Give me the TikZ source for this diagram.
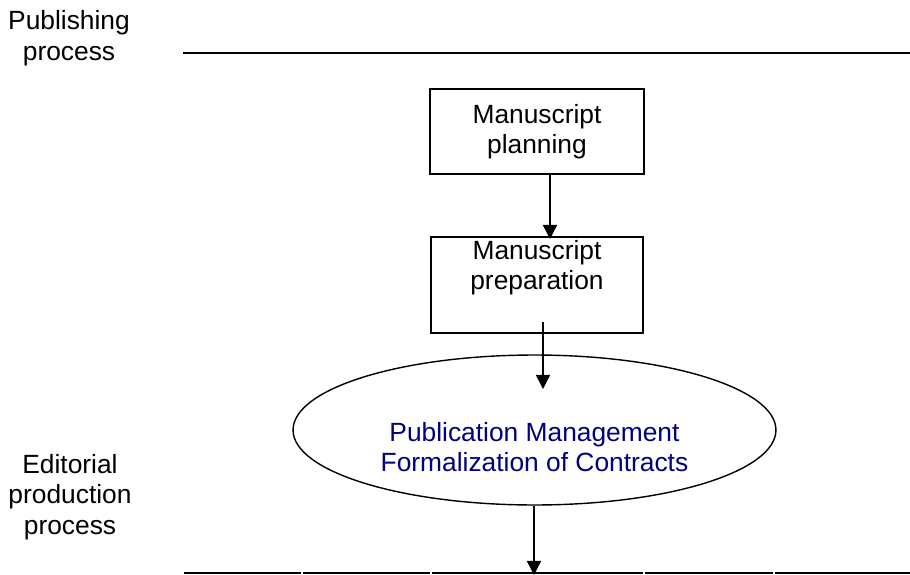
\documentclass[tikz,border=0pt]{standalone}
\usepackage{fontspec}
\setmainfont{Liberation Sans}
\usetikzlibrary{arrows.meta,shapes.geometric}

\definecolor{pmblue}{RGB}{0,0,128}

\tikzset{
  stage/.style={draw, line width=0.8pt, align=center, inner sep=0pt},
  side/.style={align=center, inner sep=0pt},
  flow/.style={line width=0.8pt, -{Triangle[width=8pt,length=8pt]}},
  rule/.style={line width=0.9pt}
}

\begin{document}
\begin{tikzpicture}[x=0.02cm, y=-0.02cm, font=\fontsize{15}{17.3}\selectfont]

\useasboundingbox (0,0) rectangle (910,575);

% side labels
\node[side] (pub) at (69,38) {Publishing\\process};
\node[side] (edi) at (70,497) {Editorial\\production\\process};

% top rule
\coordinate (topL) at (183,53);
\coordinate (topR) at (910,53);
\draw[rule] (topL) -- (topR);

% bottom rule, drawn in pieces
\foreach \a/\b in {184/301, 303/430, 432/643, 645/773, 775/910}
    \draw[rule] (\a,573) -- (\b,573);

% stages
\node[stage, minimum width=4.28cm, minimum height=1.70cm] (plan) at (537,131.5)
    {Manuscript\\planning};
\node[stage, minimum width=4.24cm, minimum height=1.92cm] (prep) at (537,285)
    {Manuscript\\preparation\\\strut};
\node[draw, ellipse, line width=0.8pt, minimum width=9.66cm, minimum height=3.0cm,
      inner sep=0pt] (pm) at (534.5,430) {};
\node[side, text=pmblue] (pmtext) at (534.5,447)
    {Publication Management\\Formalization of Contracts};

% arrows
\coordinate (a1s) at (550,174);
\coordinate (a1e) at (550,239);
\coordinate (a2s) at (543,322);
\coordinate (a2e) at (543,389);
\coordinate (a3e) at (534,575);
\draw[flow] (a1s) -- (a1e);
\draw[flow] (a2s) -- (a2e);
\draw[flow] (pm.south -| a3e) -- (a3e);

\end{tikzpicture}
\end{document}
